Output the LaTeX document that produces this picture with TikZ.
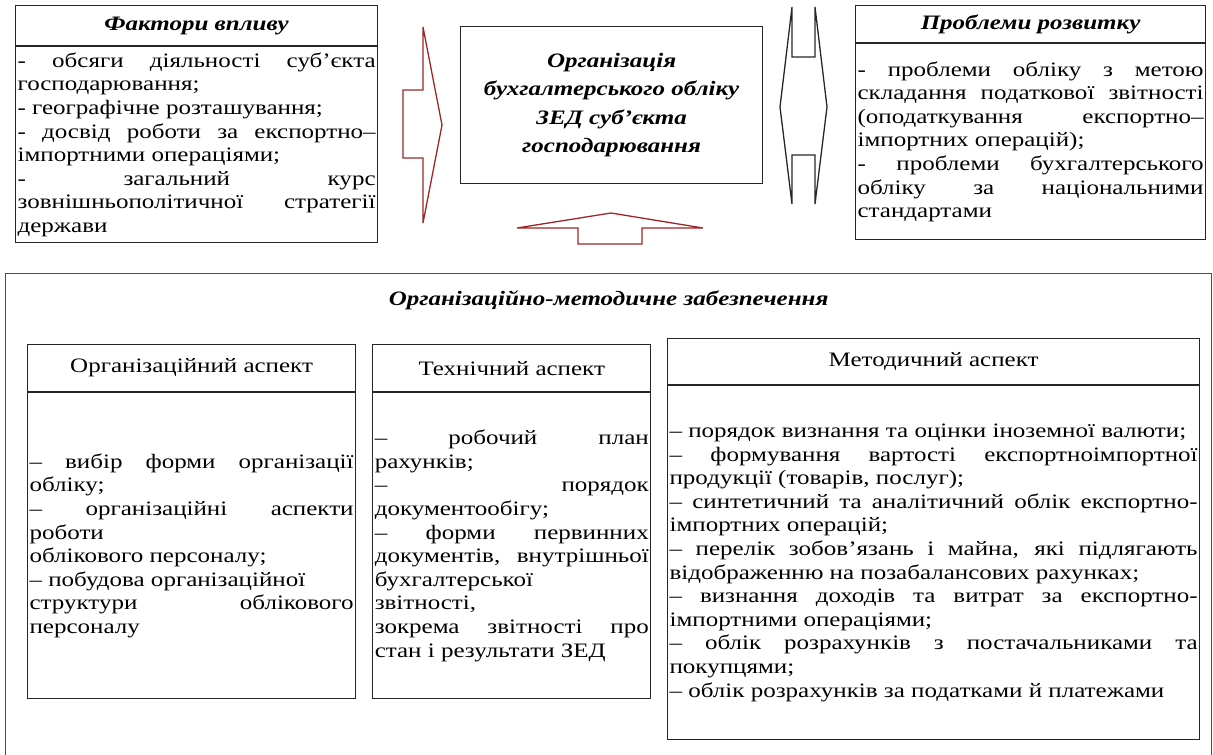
\documentclass[tikz,border=0pt]{standalone}
\usepackage{fontspec}
\setmainfont{Liberation Serif}[FakeStretch=1.22]
\usepackage{tikz}
\usetikzlibrary{positioning}

\definecolor{arrowred}{RGB}{158,38,38}
\newcommand{\bodyfont}{\fontsize{20.5}{23.6}\selectfont}
\hyphenpenalty=10000
\exhyphenpenalty=10000
\tolerance=10000
\hbadness=10000

\begin{document}
\begin{tikzpicture}[x=1pt,y=-1pt,
line width=1.2pt,
font=\bodyfont]
\tikzstyle{headbox}=[rectangle, draw=black!85, inner sep=0pt, anchor=north west]
\tikzstyle{bodybox}=[rectangle, draw=black!85, inner xsep=2pt, inner ysep=0pt, align=justify]
\tikzstyle{titlefont}=[font=\bodyfont\bfseries\itshape]
\tikzstyle{bigarrow}=[draw=arrowred, line width=1.3pt]

\useasboundingbox (0,0) rectangle (1213,755);
\clip (0,0) rectangle (1213,755);

% factors
\node[headbox, titlefont, minimum width=362pt, minimum height=40pt] (FH) at (15,5) {Фактори впливу};
\node[bodybox, below=0pt of FH, text width=358pt, minimum height=196pt] (FB) {- обсяги діяльності суб’єкта\linebreak
господарювання;\\
- географічне розташування;\\
- досвід роботи за експортно–\linebreak
імпортними операціями;\\
- загальний курс\linebreak
зовнішньополітичної стратегії\linebreak
держави};

% problems
\node[headbox, titlefont, minimum width=350pt, minimum height=37pt] (PH) at (855,5) {Проблеми розвитку};
\node[bodybox, below=0pt of PH, text width=346pt, minimum height=196pt] (PB) {- проблеми обліку з метою\linebreak
складання податкової звітності\linebreak
(оподаткування експортно–\linebreak
імпортних операцій);\\
- проблеми бухгалтерського\linebreak
обліку за національними\linebreak
стандартами};

% centre
\node[headbox, minimum width=302pt, minimum height=157pt, align=center,
font=\fontsize{20.5}{28.5}\selectfont\bfseries\itshape] (ZED) at (460,26) {Організація\\
бухгалтерського обліку\\
ЗЕД суб’єкта\\
господарювання};

\draw[bigarrow] (403,90) -- (423,90) -- (423,27) -- (442,125) -- (423,223) -- (423,158) -- (403,158) -- cycle;
\draw[bigarrow] (578,244) -- (578,228) -- (517,228) -- (611,213) -- (703,228) -- (642,228) -- (642,244) -- cycle;
\draw[draw=black!85, line width=1.3pt] (792,57) -- (792,7) -- (780,107) -- (792,204) -- (792,155) -- (815,155) -- (815,204) -- (827,107) -- (815,7) -- (815,57) -- cycle;

% support
\node[headbox, draw=black!70, minimum width=1206pt, minimum height=520pt] (OM) at (5,273) {};
\node[titlefont, below=14pt of OM.north] (OMT) {Організаційно-методичне забезпечення};

\node[headbox, minimum width=328pt, minimum height=47pt] (AH) at (27,344) {Організаційний аспект};
\node[bodybox, below=0pt of AH, text width=324pt, minimum height=306pt] (AB) {– вибір форми організації\linebreak
обліку;\\
– організаційні аспекти\linebreak
роботи\\
облікового персоналу;\\
– побудова організаційної\\
структури облікового\linebreak
персоналу};

\node[headbox, minimum width=278pt, minimum height=47pt, right=16pt of AH] (TH) {Технічний аспект};
\node[bodybox, below=0pt of TH, text width=274pt, minimum height=306pt] (TB) {– робочий план\linebreak
рахунків;\\
– порядок\linebreak
документообігу;\\
– форми первинних\linebreak
документів, внутрішньої\linebreak
бухгалтерської\\
звітності,\\
зокрема звітності про\linebreak
стан і результати ЗЕД};

\node[headbox, minimum width=532pt, minimum height=46pt] (MH) at (667,338) {Методичний аспект};
\node[bodybox, below=0pt of MH, text width=528pt, minimum height=354pt] (MB) {– порядок визнання та оцінки іноземної валюти;\\
– формування вартості експортноімпортної\linebreak
продукції (товарів, послуг);\\
– синтетичний та аналітичний облік експортно-\linebreak
імпортних операцій;\\
– перелік зобов’язань і майна, які підлягають\linebreak
відображенню на позабалансових рахунках;\\
– визнання доходів та витрат за експортно-\linebreak
імпортними операціями;\\
– облік розрахунків з постачальниками та\linebreak
покупцями;\\
– облік розрахунків за податками й платежами};

\end{tikzpicture}
\end{document}
